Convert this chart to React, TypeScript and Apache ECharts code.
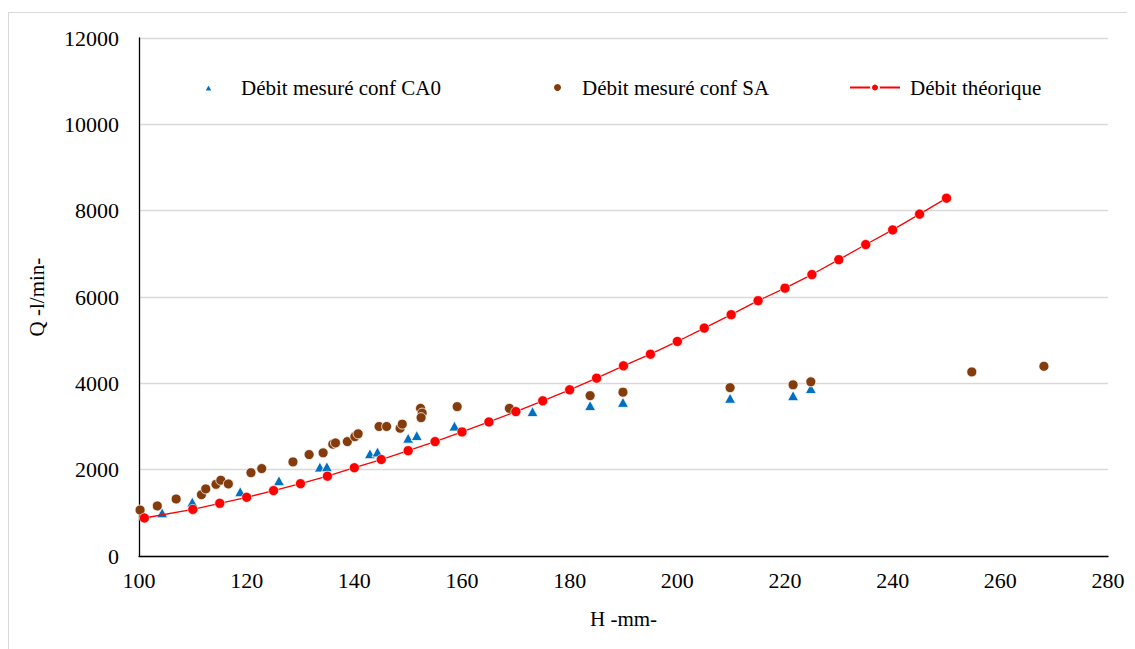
import React, { useEffect, useRef } from "react";
import * as echarts from "echarts";

const xTicks = [100, 120, 140, 160, 180, 200, 220, 240, 260, 280];
const yTicks = [0, 2000, 4000, 6000, 8000, 10000, 12000];

const theoH = [101, 110, 115, 120, 125, 130, 135, 140, 145, 150, 155, 160, 165, 170, 175, 180, 185, 190, 195, 200, 205, 210, 215, 220, 225, 230, 235, 240, 245, 250];
const theoQ = [880, 1080, 1220, 1360, 1515, 1675, 1850, 2045, 2235, 2440, 2650, 2875, 3105, 3345, 3595, 3850, 4120, 4405, 4675, 4970, 5280, 5590, 5915, 6205, 6520, 6865, 7215, 7555, 7920, 8290];

const ca0H = [104.3, 109.9, 118.8, 126.0, 133.6, 134.9, 142.9, 144.3, 150.0, 151.6, 158.6, 173.1, 183.8, 189.9, 209.8, 221.5, 224.8];
const ca0Q = [1000, 1250, 1490, 1745, 2060, 2070, 2370, 2410, 2730, 2790, 3010, 3345, 3485, 3560, 3655, 3715, 3880];

const saH = [100.2, 103.4, 106.9, 111.6, 112.4, 114.3, 115.2, 116.6, 120.8, 122.8, 128.6, 131.6, 134.2, 136.0, 136.5, 138.7, 140.1, 140.7, 144.6, 146.0, 148.5, 148.9, 152.3, 152.6, 152.4, 159.1, 168.8, 183.8, 189.9, 209.8, 221.5, 224.8, 254.7, 268.1];
const saQ = [1065, 1160, 1320, 1420, 1555, 1660, 1755, 1670, 1930, 2025, 2180, 2350, 2390, 2590, 2620, 2650, 2765, 2830, 3000, 3000, 2960, 3055, 3420, 3310, 3205, 3460, 3420, 3715, 3795, 3900, 3965, 4035, 4265, 4395];

const nameCA0 = "Débit mesuré conf CA0";
const nameSA = "Débit mesuré conf SA";
const nameTheo = "Débit théorique";

const zip = (a: number[], b: number[]) => a.map((v, i) => [v, b[i]]);

const FONT = "Liberation Serif";

export default function App() {
  const ref = useRef<HTMLDivElement>(null);
  useEffect(() => {
    if (!ref.current) return;
    const chart = echarts.init(ref.current, null, { renderer: "svg" });
    chart.setOption({
      animation: false,
      backgroundColor: "#fff",
      grid: { left: 131, right: 27, top: 30, bottom: 93 },
      legend: [
        {
          data: [{ name: nameCA0, icon: "triangle" }],
          left: 190, top: 64, itemWidth: 9, itemHeight: 8,
          textStyle: { fontFamily: FONT, fontSize: 21, color: "#000", padding: [0, 0, 0, 23] },
        },
        {
          data: [{ name: nameSA, icon: "circle" }],
          left: 539, top: 64, itemWidth: 9, itemHeight: 9,
          textStyle: { fontFamily: FONT, fontSize: 21, color: "#000", padding: [0, 0, 0, 15] },
        },
        {
          data: [{ name: nameTheo }],
          left: 836, top: 64, itemWidth: 50, itemHeight: 10,
          textStyle: { fontFamily: FONT, fontSize: 21, color: "#000", padding: [0, 0, 0, 5] },
        },
      ],
      xAxis: {
        type: "value",
        min: xTicks[0],
        max: xTicks[xTicks.length - 1],
        interval: 20,
        name: "H -mm-",
        nameLocation: "middle",
        nameGap: 52,
        nameTextStyle: { fontFamily: FONT, fontSize: 21, color: "#000" },
        axisLine: { show: true, lineStyle: { color: "#000", width: 1.3 } },
        axisTick: { show: false },
        splitLine: { show: false },
        axisLabel: { fontFamily: FONT, fontSize: 22, color: "#000", margin: 13, formatter: (v: number) => String(v) },
      },
      yAxis: {
        type: "value",
        min: yTicks[0],
        max: yTicks[yTicks.length - 1],
        interval: 2000,
        name: "Q -l/min-",
        nameLocation: "middle",
        nameGap: 92,
        nameTextStyle: { fontFamily: FONT, fontSize: 21, color: "#000" },
        axisLine: { show: true, lineStyle: { color: "#000", width: 1.3 } },
        axisTick: { show: false },
        splitLine: { show: true, lineStyle: { color: "#d9d9d9", width: 1.3 } },
        axisLabel: { fontFamily: FONT, fontSize: 22, color: "#000", margin: 20, formatter: (v: number) => String(v) },
      },
      series: [
        {
          name: nameCA0,
          type: "scatter",
          symbol: "triangle",
          symbolSize: [11, 10],
          itemStyle: { color: "#0070C0", borderColor: "#fff", borderWidth: 0.8, opacity: 1 },
          data: zip(ca0H, ca0Q),
          z: 2,
        },
        {
          name: nameSA,
          type: "scatter",
          symbol: "circle",
          symbolSize: 10,
          itemStyle: { color: "#843C0C", borderColor: "#fff", borderWidth: 0.8, opacity: 1 },
          data: zip(saH, saQ),
          z: 3,
        },
        {
          name: nameTheo,
          type: "line",
          symbol: "circle",
          symbolSize: 10,
          showSymbol: true,
          lineStyle: { color: "#FF0000", width: 1.3 },
          itemStyle: { color: "#FF0000", borderColor: "#fff", borderWidth: 0.6, opacity: 1 },
          data: zip(theoH, theoQ),
          z: 4,
        },
      ],
    });
    return () => chart.dispose();
  }, []);
  return (
    <div style={{ position: "relative", width: 1127, height: 641, overflow: "hidden" }}>
      <div ref={ref} style={{ width: 1127, height: 641 }} />
      <div
        style={{
          position: "absolute",
          left: 0,
          top: 4,
          width: 1300,
          height: 900,
          border: "1px solid #d9d9d9",
          pointerEvents: "none",
        }}
      />
    </div>
  );
}
